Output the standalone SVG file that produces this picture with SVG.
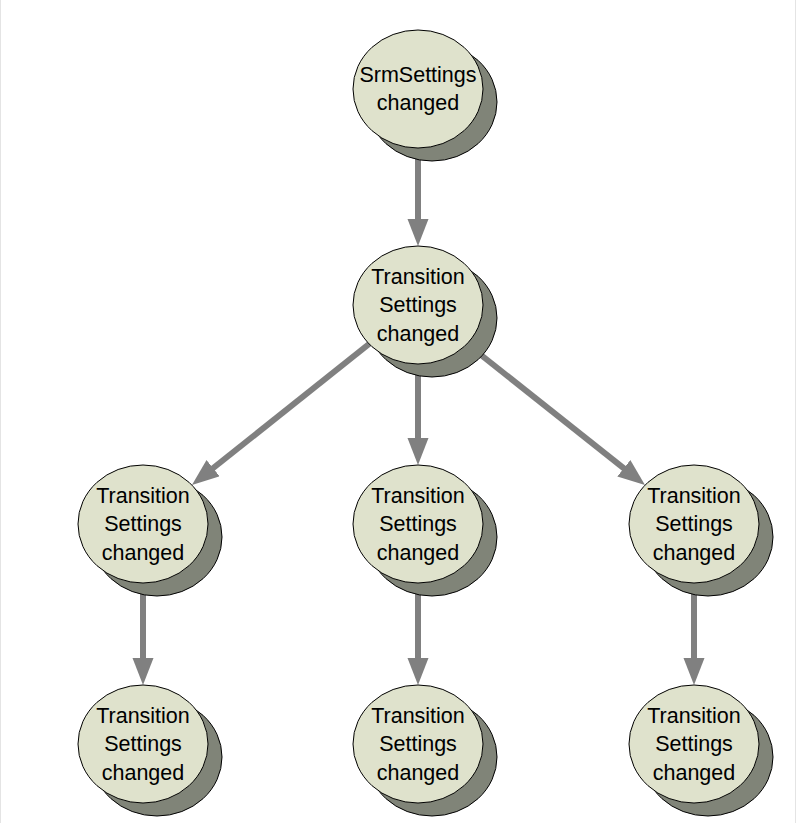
<svg xmlns="http://www.w3.org/2000/svg" width="796" height="823" viewBox="0 0 796 823">
<style>
.shadow{fill:#808478;stroke:#000;stroke-width:1}
.face{fill:#dfe2cc;stroke:#000;stroke-width:1}
.lbl{font-family:"Liberation Sans",Arial,sans-serif;font-size:21.5px;fill:#000;text-anchor:middle}
.edge{stroke:#808080;stroke-width:6;fill:none;marker-end:url(#ah)}
.frame{stroke:#e4e4e4;stroke-width:1}
</style>
<defs>
<marker id="ah" markerUnits="userSpaceOnUse" markerWidth="28" markerHeight="22" refX="7" refY="10.5" orient="auto">
<path d="M0,0 L27,10.5 L0,21 z" fill="#808080"/>
</marker>
</defs>
<rect width="796" height="823" fill="#fff"/>
<line class="frame" x1="0.5" y1="0" x2="0.5" y2="823"/>
<line class="frame" x1="795.5" y1="0" x2="795.5" y2="823"/>
<g id="connectors">
<line class="edge" x1="418" y1="89" x2="418" y2="226"/>
<line class="edge" x1="418" y1="305" x2="418" y2="445"/>
<line class="edge" x1="418" y1="305" x2="207.6" y2="472.5"/>
<line class="edge" x1="418" y1="305" x2="629.3" y2="472.6"/>
<line class="edge" x1="143" y1="524" x2="143" y2="665"/>
<line class="edge" x1="418" y1="524" x2="418" y2="665"/>
<line class="edge" x1="694" y1="524" x2="694" y2="665"/>
</g>
<g id="n1">
<ellipse class="shadow" cx="432" cy="102" rx="65" ry="59"/>
<ellipse class="face" cx="418" cy="89" rx="65" ry="59"/>
<text class="lbl" x="418" y="82">SrmSettings</text>
<text class="lbl" x="418" y="110">changed</text>
</g>
<g id="n2">
<ellipse class="shadow" cx="432" cy="318" rx="65" ry="59"/>
<ellipse class="face" cx="418" cy="305" rx="65" ry="59"/>
<text class="lbl" x="418" y="283.5">Transition</text>
<text class="lbl" x="418" y="312">Settings</text>
<text class="lbl" x="418" y="340.5">changed</text>
</g>
<g id="n3">
<ellipse class="shadow" cx="157" cy="537" rx="65" ry="59"/>
<ellipse class="face" cx="143" cy="524" rx="65" ry="59"/>
<text class="lbl" x="143" y="502.5">Transition</text>
<text class="lbl" x="143" y="531">Settings</text>
<text class="lbl" x="143" y="559.5">changed</text>
</g>
<g id="n4">
<ellipse class="shadow" cx="432" cy="537" rx="65" ry="59"/>
<ellipse class="face" cx="418" cy="524" rx="65" ry="59"/>
<text class="lbl" x="418" y="502.5">Transition</text>
<text class="lbl" x="418" y="531">Settings</text>
<text class="lbl" x="418" y="559.5">changed</text>
</g>
<g id="n5">
<ellipse class="shadow" cx="708" cy="537" rx="65" ry="59"/>
<ellipse class="face" cx="694" cy="524" rx="65" ry="59"/>
<text class="lbl" x="694" y="502.5">Transition</text>
<text class="lbl" x="694" y="531">Settings</text>
<text class="lbl" x="694" y="559.5">changed</text>
</g>
<g id="n6">
<ellipse class="shadow" cx="157" cy="757" rx="65" ry="59"/>
<ellipse class="face" cx="143" cy="744" rx="65" ry="59"/>
<text class="lbl" x="143" y="722.5">Transition</text>
<text class="lbl" x="143" y="751">Settings</text>
<text class="lbl" x="143" y="779.5">changed</text>
</g>
<g id="n7">
<ellipse class="shadow" cx="432" cy="757" rx="65" ry="59"/>
<ellipse class="face" cx="418" cy="744" rx="65" ry="59"/>
<text class="lbl" x="418" y="722.5">Transition</text>
<text class="lbl" x="418" y="751">Settings</text>
<text class="lbl" x="418" y="779.5">changed</text>
</g>
<g id="n8">
<ellipse class="shadow" cx="708" cy="757" rx="65" ry="59"/>
<ellipse class="face" cx="694" cy="744" rx="65" ry="59"/>
<text class="lbl" x="694" y="722.5">Transition</text>
<text class="lbl" x="694" y="751">Settings</text>
<text class="lbl" x="694" y="779.5">changed</text>
</g>
</svg>
